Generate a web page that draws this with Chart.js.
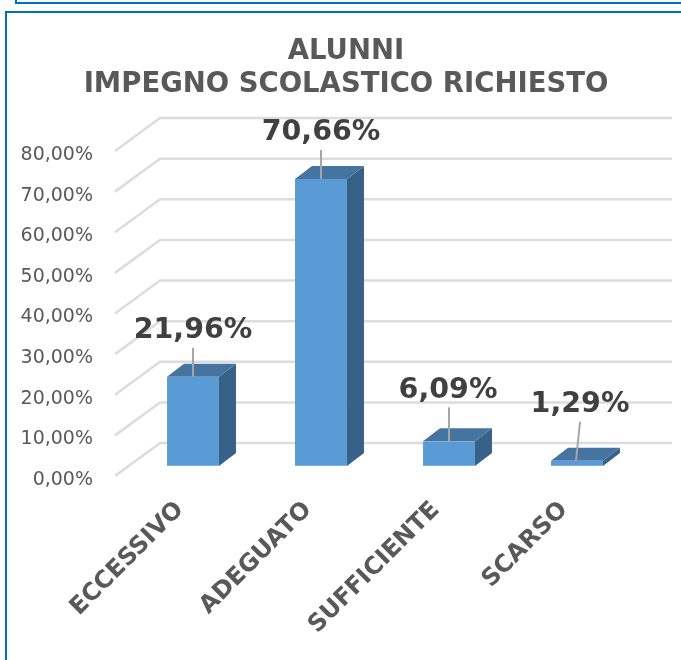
<!DOCTYPE html>
<html>
<head>
<meta charset="utf-8">
<script src="https://cdn.jsdelivr.net/npm/chart.js@4"></script>
<style>
  html, body { margin: 0; padding: 0; background: #fff; }
  body { width: 681px; height: 660px; position: relative; overflow: hidden; }
  #topBox { position: absolute; left: 15px; top: -20px; width: 700px; height: 20px; border: 2px solid #0070c0; }
  #mainBox { position: absolute; left: 5px; top: 11px; width: 700px; height: 700px; border: 2px solid #0070c0; }
  canvas { position: absolute; left: 0; top: 0; }
</style>
</head>
<body>
<div id="topBox"></div>
<div id="mainBox"></div>
<canvas id="chart" width="681" height="660"></canvas>
<script>
const categories = ['ECCESSIVO', 'ADEGUATO', 'SUFFICIENTE', 'SCARSO'];
const values = [21.96, 70.66, 6.09, 1.29];
const titleLines = ['ALUNNI', 'IMPEGNO SCOLASTICO RICHIESTO'];

// how far the leader line rises above each bar, and its sideways lean
const leaderRise = [29, 29, 34, 39];
const leaderLean = [0, 0, 0, 3];

const depthX = 17;
const depthY = 13;

const fmt = v => v.toFixed(2).replace('.', ',') + '%';

// walls and floor lines of the fake 3D box
const wallGrid = {
  id: 'wallGrid',
  beforeDatasetsDraw(chart) {
    const ctx = chart.ctx;
    const y = chart.scales.y;
    ctx.save();
    ctx.strokeStyle = '#dcdcdc';
    ctx.lineWidth = 2.5;
    y.ticks.forEach(t => {
      const p = y.getPixelForValue(t.value);
      ctx.beginPath();
      ctx.moveTo(115, p + 10);
      ctx.lineTo(160, p - 23);
      ctx.lineTo(672, p - 23);
      ctx.stroke();
    });
    ctx.restore();
  }
};

// side and top faces of the bars, then the leader lines and value labels
const bars3d = {
  id: 'bars3d',
  afterDatasetsDraw(chart) {
    const ctx = chart.ctx;
    const bars = chart.getDatasetMeta(0).data;
    ctx.save();
    bars.forEach(bar => {
      const l = bar.x - bar.width / 2;
      const r = bar.x + bar.width / 2;
      ctx.fillStyle = '#376288';
      ctx.beginPath();
      ctx.moveTo(r, bar.y);
      ctx.lineTo(r + depthX, bar.y - depthY);
      ctx.lineTo(r + depthX, bar.base - depthY);
      ctx.lineTo(r, bar.base);
      ctx.closePath();
      ctx.fill();
      ctx.fillStyle = '#44749f';
      ctx.beginPath();
      ctx.moveTo(l, bar.y);
      ctx.lineTo(l + depthX, bar.y - depthY);
      ctx.lineTo(r + depthX, bar.y - depthY);
      ctx.lineTo(r, bar.y);
      ctx.closePath();
      ctx.fill();
    });
    bars.forEach((bar, i) => {
      const topY = bar.y - leaderRise[i];
      ctx.strokeStyle = '#a6a6a6';
      ctx.lineWidth = 2;
      ctx.beginPath();
      ctx.moveTo(bar.x - (leaderLean[i] ? 1 : 0), bar.y);
      ctx.lineTo(bar.x + leaderLean[i], topY);
      ctx.stroke();
      ctx.fillStyle = '#404040';
      ctx.font = 'bold 28.5px "DejaVu Sans"';
      ctx.textAlign = 'center';
      ctx.textBaseline = 'middle';
      ctx.fillText(fmt(values[i]), bar.x + leaderLean[i] - (i === 2 ? 1 : 0), topY - 17);
    });
    ctx.restore();
  }
};

new Chart(document.getElementById('chart').getContext('2d'), {
  type: 'bar',
  data: {
    labels: categories,
    datasets: [{
      data: values,
      backgroundColor: '#5b9bd5',
      borderColor: '#7fb2e2',
      borderWidth: { top: 0, left: 0, right: 0, bottom: 1 },
      borderSkipped: false,
      barPercentage: 0.406,
      categoryPercentage: 1
    }]
  },
  plugins: [wallGrid, bars3d],
  options: {
    responsive: false,
    animation: false,
    // title is centred on the padded box, so pad left and keep the plot off the right edge with an empty axis
    layout: { padding: { left: 11, right: 0, top: 0, bottom: 0 } },
    plugins: {
      legend: { display: false },
      tooltip: { enabled: false },
      title: {
        display: true,
        text: titleLines,
        color: '#595959',
        font: { family: '"DejaVu Sans"', size: 27.5, weight: 'bold', lineHeight: 1.2 },
        padding: { top: 35, bottom: 40 }
      }
    },
    scales: {
      x: {
        grid: { display: false },
        border: { display: false },
        afterFit: s => { s.height = 194; },
        ticks: {
          color: '#595959',
          font: { family: '"DejaVu Sans"', size: 24, weight: 'bold' },
          minRotation: 45,
          maxRotation: 45,
          padding: 22,
          labelOffset: -13
        }
      },
      y: {
        min: 0,
        max: 80,
        grid: { display: false, drawTicks: false },
        border: { display: false },
        afterFit: s => { s.width = 118; },
        ticks: {
          stepSize: 10,
          color: '#595959',
          font: { family: '"DejaVu Sans"', size: 19 },
          padding: 36,
          labelOffset: 14,
          callback: v => fmt(v)
        }
      },
      spacer: {
        type: 'linear',
        position: 'right',
        grid: { display: false },
        border: { display: false },
        ticks: { display: false },
        afterFit: s => { s.width = 40; }
      }
    }
  }
});
</script>
</body>
</html>
